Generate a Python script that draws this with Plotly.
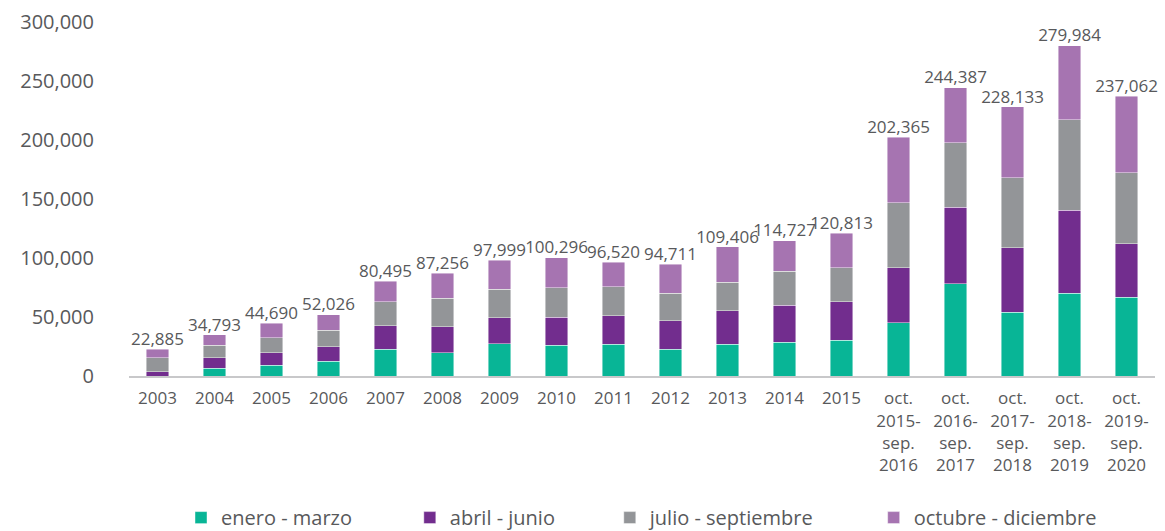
import plotly.graph_objects as go

categories = ["2003", "2004", "2005", "2006", "2007", "2008", "2009", "2010", "2011",
              "2012", "2013", "2014", "2015",
              "oct.<br>2015-<br>sep.<br>2016", "oct.<br>2016-<br>sep.<br>2017",
              "oct.<br>2017-<br>sep.<br>2018", "oct.<br>2018-<br>sep.<br>2019",
              "oct.<br>2019-<br>sep.<br>2020"]

enero_marzo = [0, 6760, 9300, 12680, 22830, 19700, 27310, 26210, 27060, 22830, 27060,
               28750, 30190, 45070, 78390, 53860, 69930, 66800]
abril_junio = [3640, 8710, 10400, 12100, 19700, 21990, 21990, 23430, 23930, 23930, 28160,
               31030, 32640, 46500, 64770, 54630, 70700, 45410]
julio_septiembre = [11830, 10490, 12690, 13860, 20300, 24010, 24010, 25360, 24860, 23420,
                    24270, 29010, 29090, 55300, 54450, 59530, 76440, 60040]
octubre_diciembre = [7415, 8833, 12300, 13386, 17665, 21556, 24690, 25296, 20670, 24530,
                     29916, 25937, 28893, 55485, 46780, 60110, 62914, 64812]
totals = [22885, 34793, 44690, 52026, 80495, 87256, 97999, 100296, 96520, 94711, 109406,
          114727, 120813, 202365, 244387, 228133, 279984, 237062]

series_names = ["enero - marzo", "abril - junio", "julio - septiembre", "octubre - diciembre"]
series_values = [enero_marzo, abril_junio, julio_septiembre, octubre_diciembre]
colors = ["#08B596", "#722D8E", "#939598", "#A674B1"]
legend_ids = ["legend", "legend2", "legend3", "legend4"]

FONT = "Open Sans, Noto Sans, sans-serif"
TXT = "#58595B"

fig = go.Figure()
for name, vals, col, lg in zip(series_names, series_values, colors, legend_ids):
    fig.add_trace(go.Bar(
        x=categories, y=vals, name=name, marker_color=col,
        marker_line=dict(width=0.8, color="rgba(255,255,255,0.55)"),
        legend=lg, hoverinfo="x+y+name",
    ))

fig.add_trace(go.Scatter(
    x=categories, y=totals, mode="text",
    text=[f"{v:,}" for v in totals], textposition="top center",
    textfont=dict(family=FONT, size=17, color=TXT),
    showlegend=False, cliponaxis=False, hoverinfo="skip",
))

legend_common = dict(orientation="h", yanchor="middle", y=-0.40, xanchor="left",
                     font=dict(family=FONT, size=20, color=TXT),
                     bgcolor="rgba(0,0,0,0)", itemwidth=30)
legend_x = [0.0507, 0.2737, 0.4686, 0.7258]

fig.update_layout(
    width=1165, height=531,
    margin=dict(l=129, r=9.5, t=21.7, b=154.5, autoexpand=False),
    barmode="stack", bargap=0.6,
    plot_bgcolor="white", paper_bgcolor="white",
    font=dict(family=FONT, color=TXT),
    legend=dict(legend_common, x=legend_x[0]),
    legend2=dict(legend_common, x=legend_x[1]),
    legend3=dict(legend_common, x=legend_x[2]),
    legend4=dict(legend_common, x=legend_x[3]),
    xaxis=dict(range=[-0.5, len(categories) - 0.5], showline=True, linecolor="#C8C8CA",
               linewidth=2, showgrid=False, ticks="", tickangle=0, ticklabelstandoff=6,
               automargin=False, tickfont=dict(family=FONT, size=17, color=TXT)),
    yaxis=dict(range=[0, 300000], tickvals=[0, 50000, 100000, 150000, 200000, 250000, 300000],
               tickformat=",", showgrid=False, zeroline=False, showline=False,
               ticks="", ticklabelstandoff=34, automargin=False,
               tickfont=dict(family=FONT, size=20, color=TXT)),
)

fig.write_html("out.html", config={"displayModeBar": False},
               post_script="document.body.style.margin='0';")
